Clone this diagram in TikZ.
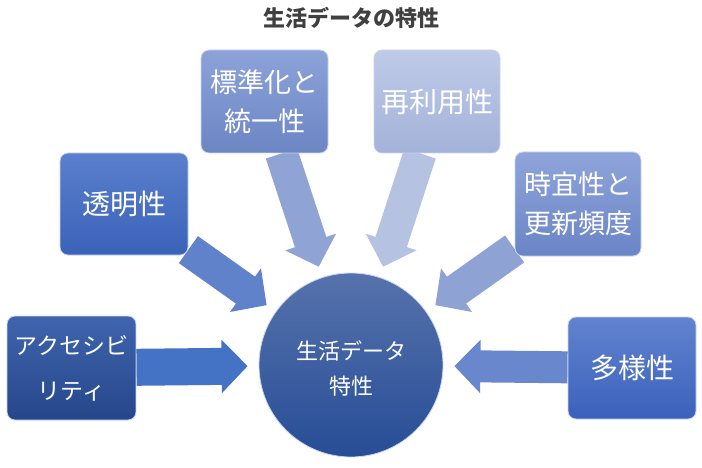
\documentclass[tikz,border=0pt]{standalone}
\usepackage{fontspec}
\newfontfamily\cjk{Noto Sans CJK JP}
\usetikzlibrary{arrows.meta,backgrounds}
\definecolor{ttl}{HTML}{404040}
\definecolor{edgec}{HTML}{C9D5F0}
\definecolor{accT}{HTML}{3F65AE}\definecolor{accB}{HTML}{26468A}\definecolor{accA}{HTML}{4472C4}
\definecolor{touT}{HTML}{5A7FCC}\definecolor{touB}{HTML}{3A62B8}\definecolor{touA}{HTML}{5F82CA}
\definecolor{hyoT}{HTML}{8CA2D9}\definecolor{hyoB}{HTML}{6C86C4}\definecolor{hyoA}{HTML}{8FA3D4}
\definecolor{saiT}{HTML}{BFCAE8}\definecolor{saiB}{HTML}{A3B2D9}\definecolor{saiA}{HTML}{B6C2E1}
\definecolor{jiT}{HTML}{8FA4DA}\definecolor{jiB}{HTML}{6A85C6}\definecolor{jiA}{HTML}{8EA2D3}
\definecolor{taT}{HTML}{6283CE}\definecolor{taB}{HTML}{3A61BC}\definecolor{taA}{HTML}{6887CD}
\definecolor{cirT}{HTML}{5672AC}\definecolor{cirB}{HTML}{274D96}
\tikzset{
  box/.style={rounded corners=8pt, draw=edgec, line width=0.8pt, minimum width=127pt,
    minimum height=103pt, align=center, text=white, inner sep=0pt, font=\cjk\fontsize{28}{40}\selectfont},
  bigarrow/.style={line width=33pt, -{Triangle[width=52pt,length=26pt]}, shorten >=11pt},
}
\begin{document}
\begin{tikzpicture}[x=1pt,y=-1pt]
\useasboundingbox (0,0) rectangle (702,468);
\node[font=\cjk\bfseries\fontsize{22}{26}\selectfont, text=ttl] (title) at (351,18) {生活データの特性};
\node[circle, minimum size=184pt, inner sep=0pt, top color=cirT, bottom color=cirB, draw=edgec, line width=0.8pt] (circ) at (351,365) {};
\node[text=white, align=center, font=\cjk\fontsize{22}{35}\selectfont] (circtext) at (351,369) {生活データ\\特性};
\node[box, minimum width=129pt, minimum height=104pt, top color=accT, bottom color=accB,
  font=\cjk\fontsize{23}{45}\selectfont] (acc) at (71.5,368) {アクセシビ\\リティ};
\node[box, minimum width=128pt, minimum height=102pt, top color=touT, bottom color=touB] (tou) at (124,204) {透明性};
\node[box, top color=hyoT, bottom color=hyoB, font=\cjk\fontsize{27}{39}\selectfont] (hyo) at (264.5,101.5) {標準化と\\統一性};
\node[box, minimum width=126pt, top color=saiT, bottom color=saiB] (sai) at (437,101.5) {再利用性};
\node[box, minimum width=126pt, minimum height=104pt, top color=jiT, bottom color=jiB, font=\cjk\fontsize{27}{39}\selectfont] (ji) at (578,204) {時宜性と\\更新頻度};
\node[box, minimum width=128pt, minimum height=102pt, top color=taT, bottom color=taB] (ta) at (632,368) {多様性};
\begin{scope}[on background layer]
\fill[white] (0,0) rectangle (702,468);
\draw[bigarrow, accA, line width=37pt] (acc) -- (circ);
\draw[bigarrow, touA] (tou) -- (circ);
\draw[bigarrow, hyoA] (hyo) -- (circ);
\draw[bigarrow, saiA] (sai) -- (circ);
\draw[bigarrow, jiA] (ji) -- (circ);
\draw[bigarrow, taA, line width=32pt] (ta) -- (circ);
\end{scope}
\end{tikzpicture}
\end{document}
